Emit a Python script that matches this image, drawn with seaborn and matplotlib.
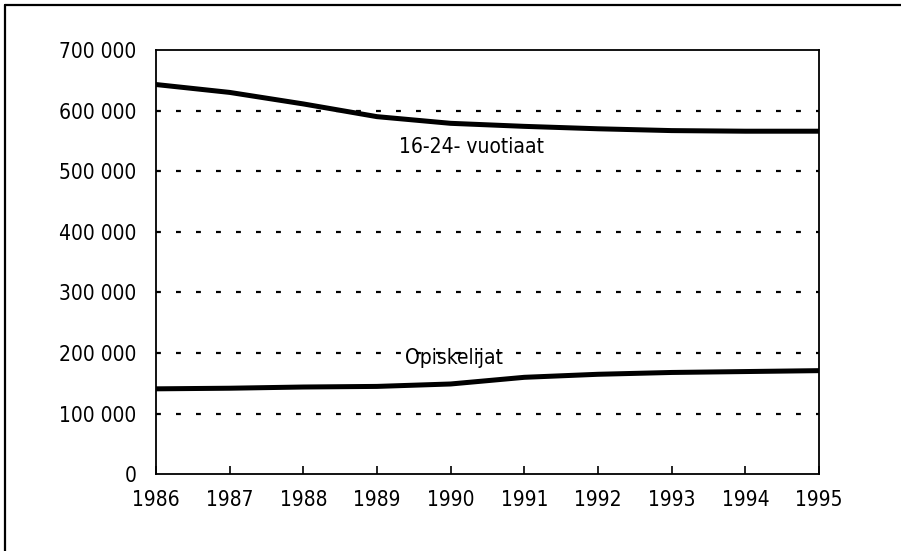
import matplotlib
matplotlib.use("Agg")
import matplotlib.pyplot as plt
import matplotlib.lines as mlines
import seaborn as sns
import pandas as pd

years = [1986, 1987, 1988, 1989, 1990, 1991, 1992, 1993, 1994, 1995]
age_16_24 = [643000, 630000, 611000, 590000, 579000, 574000, 570000, 567000, 566000, 566000]
students = [141000, 142000, 144000, 145000, 149000, 160000, 165000, 168000, 169500, 171000]
series_names = ["16-24- vuotiaat", "Opiskelijat"]
y_ticks = [0, 100000, 200000, 300000, 400000, 500000, 600000, 700000]
y_tick_labels = ["0", "100 000", "200 000", "300 000", "400 000", "500 000", "600 000", "700 000"]

df = pd.DataFrame({
    "year": years * 2,
    "value": age_16_24 + students,
    "series": [series_names[0]] * len(years) + [series_names[1]] * len(years),
})

sns.set_style("white")
plt.rcParams["font.family"] = ["DejaVu Sans"]
plt.rcParams["font.stretch"] = "condensed"

fig = plt.figure(figsize=(9.01, 5.51), dpi=100)
ax = fig.add_axes([0.1731, 0.1392, 0.9090 - 0.1731, 0.9093 - 0.1392])

sns.lineplot(data=df, x="year", y="value", hue="series",
             palette=["black", "black"], linewidth=3.6, legend=False, ax=ax)

ax.set_xlim(1986, 1995)
ax.set_ylim(0, 700000)
ax.set_xticks(years)
ax.set_xticklabels([str(y) for y in years])
ax.set_yticks(y_ticks)
ax.set_yticklabels(y_tick_labels)
ax.set_xlabel("")
ax.set_ylabel("")

for v in y_ticks[1:-1]:
    ax.axhline(v, color="black", linewidth=1.6, linestyle=(0, (2.2, 6.8)), zorder=0)

ax.tick_params(axis="x", bottom=True, direction="in", length=6, width=1.2, pad=11,
               labelsize=15, colors="black")
ax.tick_params(axis="y", left=False, length=0, pad=14, labelsize=15, colors="black")
for s in ax.spines.values():
    s.set_visible(True)
    s.set_color("black")
    s.set_linewidth(1.3)

ax.text(1990.28, 540000, series_names[0], ha="center", va="center",
        fontsize=15, color="black")
ax.text(1990.05, 192000, series_names[1], ha="center", va="center",
        fontsize=15, color="black")

fig.add_artist(mlines.Line2D([5 / 901, 1], [1 - 5 / 551, 1 - 5 / 551],
                             transform=fig.transFigure, color="black", linewidth=1.6))
fig.add_artist(mlines.Line2D([5 / 901, 5 / 901], [0, 1 - 5 / 551],
                             transform=fig.transFigure, color="black", linewidth=1.6))

fig.savefig("out.png", dpi=100, facecolor="white")
